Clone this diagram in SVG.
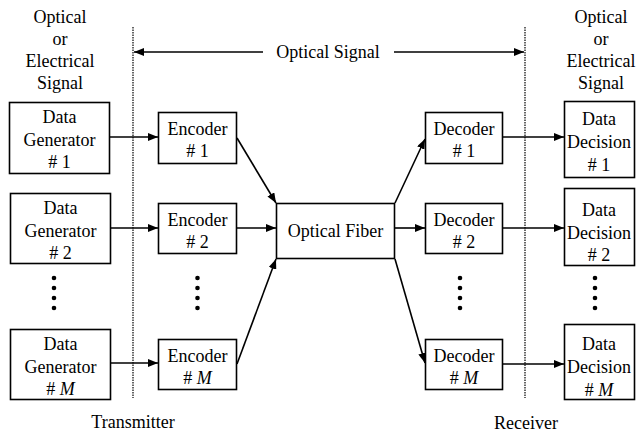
<svg xmlns="http://www.w3.org/2000/svg" width="636" height="434" viewBox="0 0 636 434" font-family="Liberation Serif, Times New Roman, serif" font-size="18">
  <style>
    text { fill: #000; text-anchor: middle; }
    .box { fill: #fff; stroke: #000; stroke-width: 1.6; }
    .wire { stroke: #000; stroke-width: 1.6; fill: none; marker-end: url(#arrow); }
    .divider { stroke: #000; stroke-width: 1.2; stroke-dasharray: 1.5 1; fill: none; }
    .dot { fill: #000; }
    .it { font-style: italic; }
  </style>
  <defs>
    <marker id="arrow" viewBox="0 0 10 8" refX="10" refY="4" markerWidth="10" markerHeight="8" markerUnits="userSpaceOnUse" orient="auto">
      <path d="M0,0 L10,4 L0,8 Z" fill="#000"/>
    </marker>
  </defs>

  <rect width="636" height="434" fill="#fff"/>

  <!-- Signal-type headings -->
  <g id="heading-left">
    <text x="60" y="23">Optical</text>
    <text x="60" y="45">or</text>
    <text x="60" y="67">Electrical</text>
    <text x="60" y="89">Signal</text>
  </g>
  <g id="heading-right">
    <text x="601" y="23">Optical</text>
    <text x="601" y="45">or</text>
    <text x="601" y="67">Electrical</text>
    <text x="601" y="89">Signal</text>
  </g>

  <!-- Transmitter / receiver boundaries -->
  <g id="boundaries">
    <line class="divider" x1="133" y1="27" x2="133" y2="398"/>
    <line class="divider" x1="525" y1="27" x2="525" y2="398"/>
    <text x="133" y="428">Transmitter</text>
    <text x="526" y="429">Receiver</text>
  </g>

  <!-- Optical signal span -->
  <g id="optical-signal">
    <line class="wire" x1="263" y1="52" x2="134" y2="52"/>
    <line class="wire" x1="394" y1="52" x2="524" y2="52"/>
    <text x="328" y="58">Optical Signal</text>
  </g>

  <!-- Data generators -->
  <g id="gen1">
    <rect class="box" x="9.5" y="102.5" width="100" height="71"/>
    <text x="59.5" y="123">Data</text>
    <text x="59.5" y="146">Generator</text>
    <text x="59.5" y="168"># 1</text>
  </g>
  <g id="gen2">
    <rect class="box" x="10.5" y="193.5" width="100" height="70"/>
    <text x="60.5" y="214">Data</text>
    <text x="60.5" y="237">Generator</text>
    <text x="60.5" y="259"># 2</text>
  </g>
  <g id="genM">
    <rect class="box" x="10.5" y="329.5" width="100" height="70"/>
    <text x="60.5" y="350">Data</text>
    <text x="60.5" y="373">Generator</text>
    <text x="60.5" y="395"># <tspan class="it">M</tspan></text>
  </g>

  <!-- Encoders -->
  <g id="enc1">
    <rect class="box" x="158.5" y="112.5" width="78" height="51"/>
    <text x="197.5" y="135">Encoder</text>
    <text x="197.5" y="157"># 1</text>
  </g>
  <g id="enc2">
    <rect class="box" x="158.5" y="203.5" width="78" height="50"/>
    <text x="197.5" y="226">Encoder</text>
    <text x="197.5" y="248"># 2</text>
  </g>
  <g id="encM">
    <rect class="box" x="158.5" y="339.5" width="78" height="50"/>
    <text x="197.5" y="362">Encoder</text>
    <text x="197.5" y="384"># <tspan class="it">M</tspan></text>
  </g>

  <!-- Fiber -->
  <g id="fiber">
    <rect class="box" x="276.5" y="203.5" width="118" height="55"/>
    <text x="335.5" y="237">Optical Fiber</text>
  </g>

  <!-- Decoders -->
  <g id="dec1">
    <rect class="box" x="425.5" y="112.5" width="77" height="51"/>
    <text x="464" y="135">Decoder</text>
    <text x="464" y="157"># 1</text>
  </g>
  <g id="dec2">
    <rect class="box" x="425.5" y="203.5" width="77" height="50"/>
    <text x="464" y="226">Decoder</text>
    <text x="464" y="248"># 2</text>
  </g>
  <g id="decM">
    <rect class="box" x="425.5" y="339.5" width="77" height="50"/>
    <text x="464" y="362">Decoder</text>
    <text x="464" y="384"># <tspan class="it">M</tspan></text>
  </g>

  <!-- Data decisions -->
  <g id="dd1">
    <rect class="box" x="564.5" y="101.5" width="70" height="76"/>
    <text x="599" y="125">Data</text>
    <text x="599" y="148">Decision</text>
    <text x="599" y="171"># 1</text>
  </g>
  <g id="dd2">
    <rect class="box" x="564.5" y="188.5" width="70" height="77"/>
    <text x="599" y="216">Data</text>
    <text x="599" y="239">Decision</text>
    <text x="599" y="261"># 2</text>
  </g>
  <g id="ddM">
    <rect class="box" x="564.5" y="324.5" width="70" height="75"/>
    <text x="599" y="350">Data</text>
    <text x="599" y="373">Decision</text>
    <text x="599" y="396"># <tspan class="it">M</tspan></text>
  </g>

  <!-- Ellipsis dots -->
  <g id="ellipses">
    <circle class="dot" cx="54" cy="278" r="2.3"/><circle class="dot" cx="54" cy="288" r="2.3"/>
    <circle class="dot" cx="54" cy="298" r="2.3"/><circle class="dot" cx="54" cy="308" r="2.3"/>
    <circle class="dot" cx="197.5" cy="278" r="2.3"/><circle class="dot" cx="197.5" cy="288" r="2.3"/>
    <circle class="dot" cx="197.5" cy="298" r="2.3"/><circle class="dot" cx="197.5" cy="308" r="2.3"/>
    <circle class="dot" cx="460" cy="278" r="2.3"/><circle class="dot" cx="460" cy="288" r="2.3"/>
    <circle class="dot" cx="460" cy="298" r="2.3"/><circle class="dot" cx="460" cy="308" r="2.3"/>
    <circle class="dot" cx="595" cy="278" r="2.3"/><circle class="dot" cx="595" cy="288" r="2.3"/>
    <circle class="dot" cx="595" cy="298" r="2.3"/><circle class="dot" cx="595" cy="308" r="2.3"/>
  </g>

  <!-- Connectors -->
  <g id="connectors">
    <line class="wire" x1="110" y1="137" x2="158" y2="137"/>
    <line class="wire" x1="111" y1="228" x2="158" y2="228"/>
    <line class="wire" x1="111" y1="363" x2="158" y2="363"/>

    <line class="wire" x1="237" y1="138" x2="276" y2="203"/>
    <line class="wire" x1="237" y1="228" x2="276" y2="228"/>
    <line class="wire" x1="237" y1="364" x2="276" y2="259"/>

    <line class="wire" x1="395" y1="203" x2="425" y2="139"/>
    <line class="wire" x1="395" y1="228" x2="425" y2="228"/>
    <line class="wire" x1="395" y1="259" x2="425" y2="363"/>

    <line class="wire" x1="503" y1="137" x2="564" y2="137"/>
    <line class="wire" x1="503" y1="228" x2="564" y2="228"/>
    <line class="wire" x1="503" y1="364" x2="564" y2="364"/>
  </g>
</svg>
